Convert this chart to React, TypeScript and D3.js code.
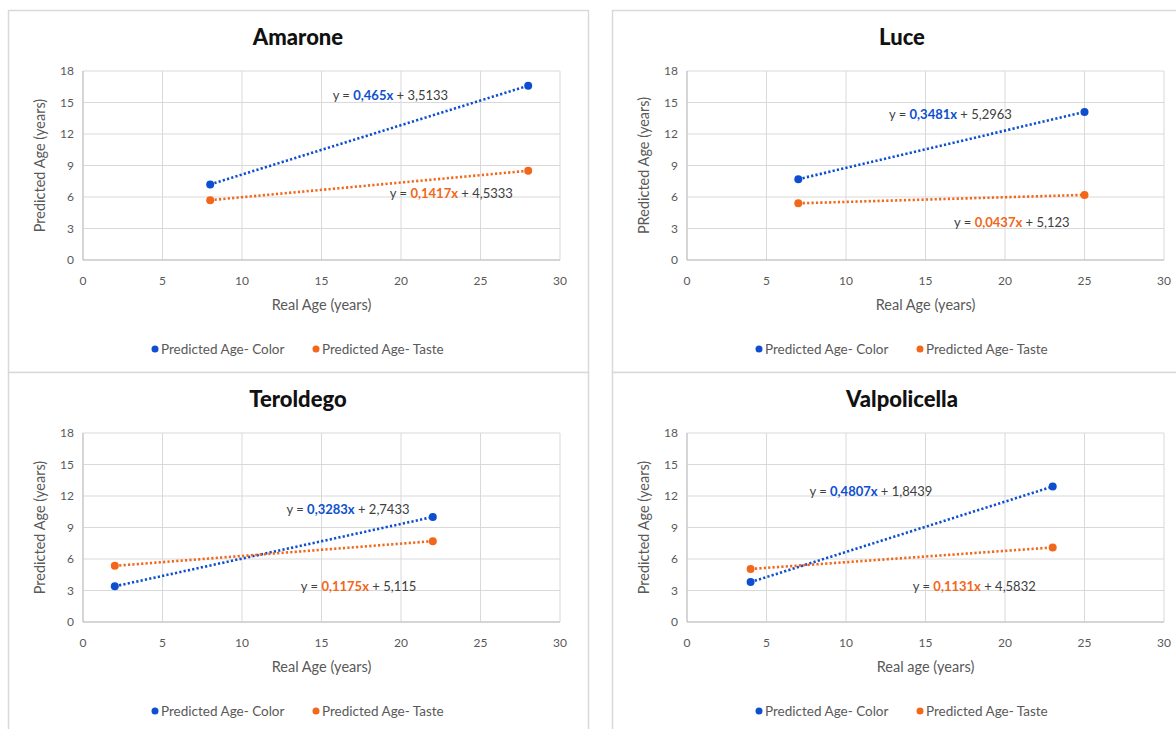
import React from "react";
import * as d3 from "d3";

// ---- Data ----
const wines = ["Amarone", "Luce", "Teroldego", "Valpolicella"];
const yAxisTitles = ["Predicted Age (years)", "PRedicted Age (years)", "Predicted Age (years)", "Predicted Age (years)"];
const xAxisTitles = ["Real Age (years)", "Real Age (years)", "Real Age (years)", "Real age (years)"];

const realAge = [
  [8, 28],
  [7, 25],
  [2, 22],
  [4, 23],
];
const predictedColor = [
  [7.2, 16.6],
  [7.7, 14.1],
  [3.4, 10.0],
  [3.8, 12.9],
];
const predictedTaste = [
  [5.7, 8.5],
  [5.4, 6.2],
  [5.35, 7.7],
  [5.05, 7.1],
];

// trendline equation labels: [slope text, intercept text]
const colorEquations = [
  ["0,465x", "3,5133"],
  ["0,3481x", "5,2963"],
  ["0,3283x", "2,7433"],
  ["0,4807x", "1,8439"],
];
const tasteEquations = [
  ["0,1417x", "4,5333"],
  ["0,0437x", "5,123"],
  ["0,1175x", "5,115"],
  ["0,1131x", "4,5832"],
];
// label anchors in data units (x, y)
const colorLabelAt = [
  [15.7, 15.7],
  [12.7, 13.9],
  [12.8, 10.7],
  [7.7, 12.4],
];
const tasteLabelAt = [
  [19.3, 6.3],
  [16.8, 3.6],
  [13.7, 3.4],
  [14.2, 3.4],
];

const xTicks = [0, 5, 10, 15, 20, 25, 30];
const yTicks = [0, 3, 6, 9, 12, 15, 18];
const seriesNames = ["Predicted Age- Color", "Predicted Age- Taste"];

// ---- Styles ----
const BLUE = "#0d4fcf";
const ORANGE = "#f2671a";
const GRID = "#d9d9d9";
const TEXT = "#595959";
const DARK = "#404040";
const FONT = "Lato, 'Open Sans', sans-serif";

const panelPos = [
  { left: 8, top: 10 },
  { left: 612, top: 10 },
  { left: 8, top: 372 },
  { left: 612, top: 372 },
];
const PANEL_W = 580;
const PANEL_H = 362;
const PLOT_L = 75;
const PLOT_T = 61;
const PLOT_W = 477;
const PLOT_H = 189;

function fit(xs: number[], ys: number[]) {
  const mx = d3.mean(xs)!;
  const my = d3.mean(ys)!;
  let num = 0;
  let den = 0;
  xs.forEach((x, i) => {
    num += (x - mx) * (ys[i] - my);
    den += (x - mx) * (x - mx);
  });
  const m = num / den;
  return { m, b: my - m * mx };
}

function Panel({ i }: { i: number }) {
  const { left, top } = panelPos[i];
  const x = d3.scaleLinear().domain([0, 30]).range([PLOT_L, PLOT_L + PLOT_W]);
  const y = d3.scaleLinear().domain([0, 18]).range([PLOT_T + PLOT_H, PLOT_T]);
  const xs = realAge[i];
  const series = [
    { vals: predictedColor[i], color: BLUE, eq: colorEquations[i], at: colorLabelAt[i] },
    { vals: predictedTaste[i], color: ORANGE, eq: tasteEquations[i], at: tasteLabelAt[i] },
  ];
  const [x0, x1] = d3.extent(xs) as [number, number];
  const line = d3
    .line<[number, number]>()
    .x((d) => x(d[0]))
    .y((d) => y(d[1]));

  return (
    <g transform={`translate(${left},${top})`}>
      <rect x={0.5} y={0.5} width={PANEL_W} height={PANEL_H} fill="#fff" stroke={GRID} strokeWidth={1.5} />
      <text x={PANEL_W / 2} y={35} textAnchor="middle" fontSize={22} fontWeight={900} fill="#111" fontFamily={FONT}>
        {wines[i]}
      </text>
      {/* grid */}
      {xTicks.map((t) => (
        <line key={"gx" + t} x1={x(t)} x2={x(t)} y1={y(0)} y2={y(18)} stroke={GRID} strokeWidth={1} />
      ))}
      {yTicks.map((t) => (
        <line key={"gy" + t} x1={x(0)} x2={x(30)} y1={y(t)} y2={y(t)} stroke={GRID} strokeWidth={1} />
      ))}
      <line x1={x(0)} x2={x(30)} y1={y(0)} y2={y(0)} stroke="#bfbfbf" strokeWidth={1} />
      <line x1={x(0)} x2={x(0)} y1={y(0)} y2={y(18)} stroke="#bfbfbf" strokeWidth={1} />
      {/* tick labels */}
      {xTicks.map((t) => (
        <text key={"tx" + t} x={x(t)} y={y(0) + 25} textAnchor="middle" fontSize={12} fill={TEXT} fontFamily={FONT}>
          {t}
        </text>
      ))}
      {yTicks.map((t) => (
        <text key={"ty" + t} x={x(0) - 9} y={y(t) + 4} textAnchor="end" fontSize={12} fill={TEXT} fontFamily={FONT}>
          {t}
        </text>
      ))}
      {/* axis titles */}
      <text x={x(15)} y={y(0) + 50} textAnchor="middle" fontSize={14.5} fill={TEXT} fontFamily={FONT}>
        {xAxisTitles[i]}
      </text>
      <text
        transform={`translate(${x(0) - 38},${(y(0) + y(18)) / 2}) rotate(-90)`}
        textAnchor="middle"
        fontSize={14.5}
        fill={TEXT}
        fontFamily={FONT}
      >
        {yAxisTitles[i]}
      </text>
      {/* trendlines and points */}
      {series.map((s, k) => {
        const { m, b } = fit(xs, s.vals);
        return (
          <g key={"s" + k}>
            <path
              d={line([
                [x0, m * x0 + b],
                [x1, m * x1 + b],
              ])!}
              fill="none"
              stroke={s.color}
              strokeWidth={2.6}
              strokeDasharray="2.2 2.2"
            />
            {xs.map((xv, j) => (
              <circle key={j} cx={x(xv)} cy={y(s.vals[j])} r={4} fill={s.color} />
            ))}
          </g>
        );
      })}
      {/* equations */}
      {series.map((s, k) => (
        <text key={"eq" + k} x={x(s.at[0])} y={y(s.at[1]) + 4.5} fontSize={13} fill={DARK} fontFamily={FONT}>
          <tspan>y = </tspan>
          <tspan fill={s.color} fontWeight={700}>
            {s.eq[0]}
          </tspan>
          <tspan>{" + " + s.eq[1]}</tspan>
        </text>
      ))}
      {/* legend */}
      {series.map((s, k) => (
        <g key={"lg" + k} transform={`translate(${k === 0 ? 147 : 308},339)`}>
          <circle cx={0} cy={0} r={3.5} fill={s.color} />
          <text x={6} y={4.5} fontSize={13.5} fill={TEXT} fontFamily={FONT}>
            {seriesNames[k]}
          </text>
        </g>
      ))}
    </g>
  );
}

export default function App() {
  return (
    <svg
      width={1176}
      height={729}
      style={{ position: "absolute", left: 0, top: 0, display: "block", background: "#fff" }}
    >
      <rect width={1176} height={729} fill="#fff" />
      {wines.map((_, i) => (
        <Panel key={i} i={i} />
      ))}
    </svg>
  );
}
